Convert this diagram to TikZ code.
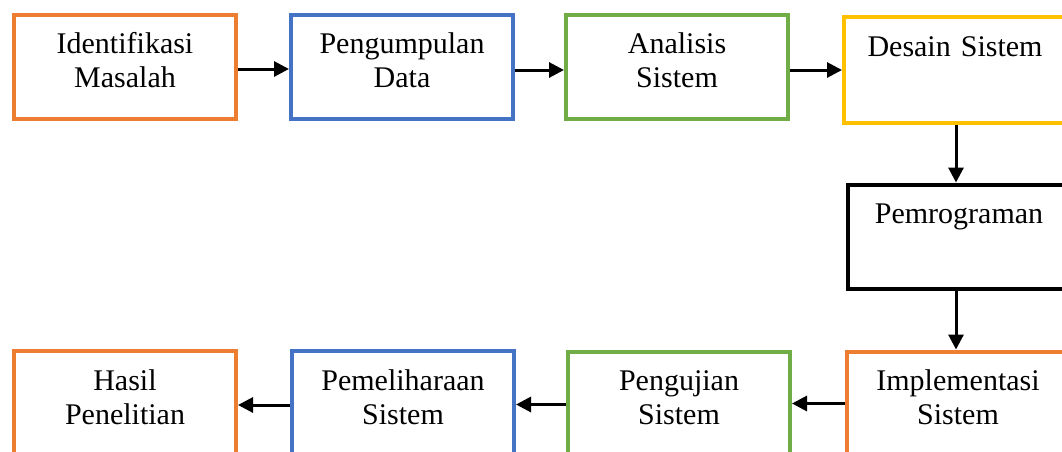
\documentclass[tikz,border=0pt]{standalone}
\usepackage{fontspec}
\setmainfont{Liberation Serif}
\usepackage{xcolor}
\usetikzlibrary{arrows.meta}

\definecolor{boxorange}{HTML}{ED7D31}
\definecolor{boxblue}{HTML}{4472C4}
\definecolor{boxgreen}{HTML}{70AD47}
\definecolor{boxyellow}{HTML}{FFC000}

\begin{document}
\begin{tikzpicture}[x=1pt, y=-1pt,
        stagebox/.style={draw, line width=4pt, inner sep=0pt, anchor=north west,
            text width=222pt, align=center, text height=39pt, text depth=65pt,
            font=\fontsize{30}{34}\selectfont},
        flow/.style={-{Triangle[length=15pt,width=15pt]}, line width=3pt}]
        \useasboundingbox (0,0) rectangle (1062,452);
        % top row
        \node[stagebox, draw=boxorange] (identifikasi) at (12,13) {Identifikasi\\Masalah};
        \node[stagebox, draw=boxblue] (pengumpulan) at (289,13) {Pengumpulan\\Data};
        \node[stagebox, draw=boxgreen] (analisis) at (564,13) {Analisis\\Sistem};
        \node[stagebox, draw=boxyellow, text depth=66pt] (desain) at (842,15.5) {Desain Sistem};
        % middle
        \node[stagebox, draw=black] (pemrograman) at (846,182.5) {Pemrograman};
        % bottom row
        \node[stagebox, draw=boxorange] (implementasi) at (845,349.5) {Implementasi\\Sistem};
        \node[stagebox, draw=boxgreen] (pengujian) at (566,349.5) {Pengujian\\Sistem};
        \node[stagebox, draw=boxblue] (pemeliharaan) at (290,349) {Pemeliharaan\\Sistem};
        \node[stagebox, draw=boxorange] (hasil) at (12,349) {Hasil\\Penelitian};
        % arrows
        \draw[flow] (identifikasi.east) ++(0,2) coordinate (a1) -- (a1 -| pengumpulan.west);
        \draw[flow] (pengumpulan.east) ++(0,3) coordinate (a2) -- (a2 -| analisis.west);
        \draw[flow] (analisis.east) ++(0,3) coordinate (a3) -- (a3 -| desain.west);
        \draw[flow] (desain.south) ++(1,0) coordinate (a4) -- (a4 |- pemrograman.north);
        \draw[flow] (pemrograman.south) ++(-3,0) coordinate (a5) -- (a5 |- implementasi.north);
        \draw[flow] (implementasi.west) -- (implementasi.west -| pengujian.east);
        \draw[flow] (pengujian.west) ++(0,1) coordinate (a6) -- (a6 -| pemeliharaan.east);
        \draw[flow] (pemeliharaan.west) ++(0,2) coordinate (a7) -- (a7 -| hasil.east);
    \end{tikzpicture}
\end{document}
